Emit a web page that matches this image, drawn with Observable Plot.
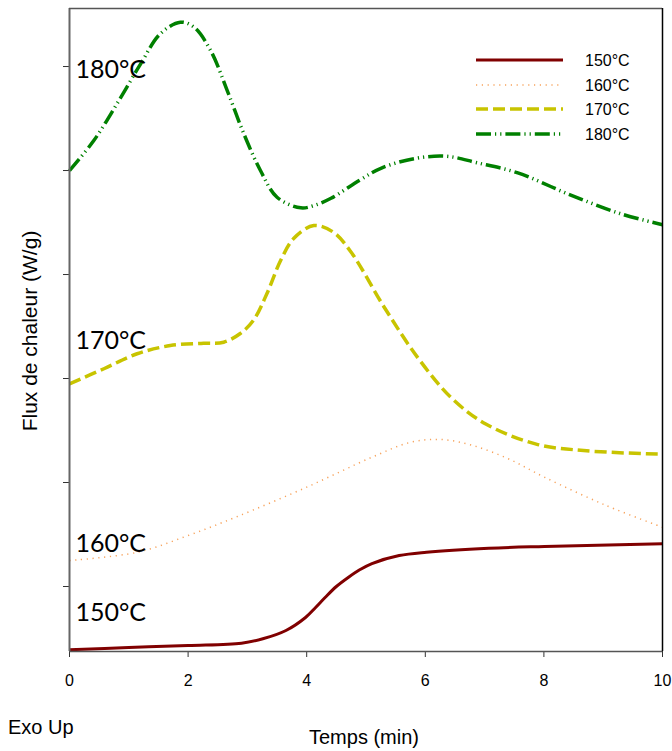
<!DOCTYPE html>
<html>
<head>
<meta charset="utf-8">
<script src="https://cdn.jsdelivr.net/npm/d3@7"></script>
<script src="https://cdn.jsdelivr.net/npm/@observablehq/plot@0.6"></script>
<style>
  html, body { margin: 0; padding: 0; background: #fff; }
  #chart { width: 672px; height: 751px; }
</style>
</head>
<body>
<div id="chart"></div>
<script>
// ---- data (time in min, heat flow in arbitrary stacked units) ----
const series = ["150°C", "160°C", "170°C", "180°C"];

const t150 = [0, 1, 2, 2.9, 3.26, 3.65, 3.98, 4.15, 4.31, 4.5, 4.7, 4.9, 5.1, 5.56, 6.02, 7.07, 8.01, 10];
const v150 = [0.391, 0.413, 0.433, 0.455, 0.497, 0.577, 0.702, 0.798, 0.894, 1.0, 1.087, 1.163, 1.221, 1.298, 1.330, 1.368, 1.385, 1.411];

const t160 = [0, 1.15, 2.0, 2.8, 4.0, 5.1, 5.76, 6.28, 6.8, 7.4, 8.01, 9.05, 10];
const v160 = [1.25, 1.330, 1.490, 1.666, 1.955, 2.243, 2.388, 2.413, 2.356, 2.228, 2.051, 1.779, 1.570];

const t170 = [0, 0.58, 1.14, 1.70, 2.26, 2.6, 2.88, 3.1, 3.33, 3.56, 3.78, 4.12, 4.45, 4.75, 5.31, 5.88, 6.45, 7.02, 7.87, 8.72, 10];
const v170 = [2.949, 3.094, 3.238, 3.317, 3.339, 3.349, 3.433, 3.558, 3.817, 4.135, 4.346, 4.471, 4.407, 4.214, 3.683, 3.195, 2.808, 2.563, 2.369, 2.305, 2.272];

const t180 = [0, 0.41, 0.8, 1.2, 1.53, 1.87, 2.1, 2.38, 2.66, 2.94, 3.22, 3.5, 3.9, 4.12, 4.41, 4.9, 5.27, 5.84, 6.36, 6.87, 7.56, 8.42, 9.28, 10];
const v180 = [5.0, 5.288, 5.641, 6.026, 6.314, 6.426, 6.378, 6.154, 5.769, 5.353, 5.0, 4.743, 4.641, 4.663, 4.733, 4.91, 5.026, 5.117, 5.137, 5.075, 4.977, 4.772, 4.587, 4.479];

const xTicks = [0, 2, 4, 6, 8, 10];
const yTicks = [1, 2, 3, 4, 5, 6];
const xDomain = [0, 10];
const yDomain = [0.375, 6.558];

// curve annotation labels
const labelNames = ["180°C", "170°C", "160°C", "150°C"];
const labelY = [5.971, 3.365, 1.413, 0.75];

// ---- styles ----
const styles = {
  "150°C": {stroke: "#800000", strokeWidth: 3, dash: null},
  "160°C": {stroke: "#f7a35c", strokeWidth: 1.5, dash: "1.2,4.6"},
  "170°C": {stroke: "#c8c400", strokeWidth: 3.5, dash: "12,5"},
  "180°C": {stroke: "#008000", strokeWidth: 3.5, dash: "15,4,1.2,4,1.2,4"}
};

const table = [];
[[t150, v150], [t160, v160], [t170, v170], [t180, v180]].forEach(([ts, vs], i) => {
  ts.forEach((t, j) => table.push({series: series[i], t, v: vs[j]}));
});

const lineMarks = series.map(s => Plot.line(table.filter(d => d.series === s), {
  x: "t", y: "v", curve: "catmull-rom",
  stroke: styles[s].stroke, strokeWidth: styles[s].strokeWidth,
  strokeDasharray: styles[s].dash, strokeLinecap: "butt"
}));

const chart = Plot.plot({
  width: 672,
  height: 751,
  marginLeft: 69,
  marginRight: 10,
  marginTop: 8,
  marginBottom: 100,
  style: {fontFamily: "'Liberation Sans', Arial, sans-serif", fontSize: "16px", background: "#fff", color: "#000"},
  x: {domain: xDomain},
  y: {domain: yDomain},
  marks: [
    Plot.axisX({ticks: xTicks, tickSize: 6, tickPadding: 17, label: null, stroke: "#333", fontSize: 16}),
    Plot.axisY({ticks: yTicks, tickSize: 6, tickFormat: () => "", label: null, stroke: "#333"}),
    ...lineMarks,
    Plot.ruleX([xDomain[0]], {stroke: "#666", strokeWidth: 2}),
    Plot.ruleY([yDomain[0]], {stroke: "#555", strokeWidth: 1.5}),
    Plot.ruleY([yDomain[1]], {stroke: "#555", strokeWidth: 1.5}),
    Plot.ruleX([xDomain[1]], {stroke: "#000", strokeWidth: 1.5}),
    Plot.text(labelNames, {
      x: () => 0, y: (d, i) => labelY[i], text: d => d, dx: 6,
      textAnchor: "start", lineAnchor: "middle",
      fontFamily: "Lato, 'Open Sans', sans-serif", fontSize: 25, fill: "#000"
    })
  ]
});

document.getElementById("chart").appendChild(chart);

// ---- legend and axis titles ----
const svg = d3.select(chart);
const FONT = "'Liberation Sans', Arial, sans-serif";
const legendRows = [60, 85, 109, 134];
const lg = svg.append("g");
series.forEach((s, i) => {
  lg.append("line")
    .attr("x1", 476).attr("x2", 563)
    .attr("y1", legendRows[i]).attr("y2", legendRows[i])
    .attr("stroke", styles[s].stroke)
    .attr("stroke-width", styles[s].strokeWidth)
    .attr("stroke-dasharray", styles[s].dash)
    .attr("stroke-linecap", "butt");
  lg.append("text")
    .attr("x", 585).attr("y", legendRows[i] + 6)
    .attr("text-anchor", "start")
    .attr("font-family", FONT)
    .attr("font-size", 16)
    .attr("fill", "#000")
    .text(s);
});

svg.append("text")
  .attr("x", 364).attr("y", 744)
  .attr("text-anchor", "middle")
  .attr("font-family", FONT)
  .attr("font-size", 20).attr("fill", "#000")
  .text("Temps (min)");

svg.append("text")
  .attr("x", 8).attr("y", 734)
  .attr("text-anchor", "start")
  .attr("font-family", FONT)
  .attr("font-size", 20).attr("fill", "#000")
  .text("Exo Up");

svg.append("text")
  .attr("transform", "translate(37,331) rotate(-90)")
  .attr("text-anchor", "middle")
  .attr("font-family", FONT)
  .attr("font-size", 21).attr("fill", "#000")
  .text("Flux de chaleur (W/g)");
</script>
</body>
</html>
